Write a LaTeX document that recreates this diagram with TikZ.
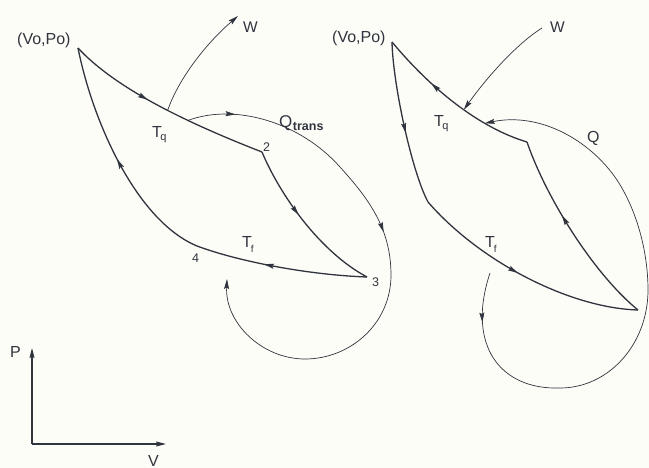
\documentclass[tikz,border=0pt]{standalone}
\usepackage{fontspec}
\setmainfont{Liberation Sans}
\usetikzlibrary{arrows.meta,decorations.markings}
\definecolor{ink}{RGB}{48,52,62}
\definecolor{paper}{RGB}{253,253,247}
\begin{document}
\begin{tikzpicture}[x=1pt,y=-1pt,
  cyc/.style={draw=ink,line width=1.3pt},
  flow/.style={draw=ink,line width=0.7pt},
  endtip/.style={-{Stealth[length=10pt,width=5pt,inset=1.5pt]}},
  midarrow/.style={postaction={decorate},decoration={markings,
     mark=at position #1 with {\arrow{Stealth[length=10pt,width=5pt,inset=1.5pt]}}}},
  twoarrows/.style 2 args={postaction={decorate},decoration={markings,
     mark=at position #1 with {\arrow{Stealth[length=10pt,width=5pt,inset=1.5pt]}},
     mark=at position #2 with {\arrow{Stealth[length=10pt,width=5pt,inset=1.5pt]}}}},
  lbl/.style={text=ink,font=\fontsize{16}{18}\selectfont,inner sep=0pt,anchor=base west},
  num/.style={text=ink,font=\fontsize{12.5}{14}\selectfont,inner sep=0pt,anchor=base west}
]
\fill[paper] (0,0) rectangle (649,468);
\useasboundingbox (0,0) rectangle (649,468);

% ---------- left cycle ----------
\coordinate (A1) at (78,48);
\coordinate (B1) at (262,152);
\coordinate (C1) at (367,277);
\coordinate (D1) at (197,246);

\draw[cyc,midarrow=0.41] (A1) .. controls (115,88) and (185,122) ..
   coordinate[pos=0.565] (wL) coordinate[pos=0.665] (qL) (B1);
\draw[cyc,midarrow=0.44] (B1) .. controls (280,195) and (320,252) .. (C1);
\draw[cyc,midarrow=0.6] (C1) .. controls (310,275) and (240,262) .. (D1);
\draw[cyc,midarrow=0.505] (D1) .. controls (137,221) and (93,123) .. (A1);

\coordinate (wLtip) at (238,16);
\draw[flow,endtip] (wL) .. controls (180,75) and (210,40) .. (wLtip);

\coordinate (qLtip) at (227,279);
\draw[flow,endtip,twoarrows={0.088}{0.45}] (qL)
  .. controls (235,103) and (300,122) .. (340,167)
  .. controls (368,198) and (391,228) .. (391,275)
  .. controls (391,324) and (350,359) .. (305,359)
  .. controls (262,359) and (225,323) .. (qLtip);

% ---------- right cycle ----------
\coordinate (A2) at (392,42);
\coordinate (B2) at (527,142);
\coordinate (C2) at (638,310);
\coordinate (D2) at (428,202);

\draw[cyc,midarrow=0.56] (A2) .. controls (393,85) and (412,172) .. (D2);
\draw[cyc,midarrow=0.476] (D2) .. controls (480,262) and (570,308) .. (C2);
\draw[cyc,midarrow=0.6] (C2) .. controls (595,275) and (547,200) .. (B2);
\draw[cyc,midarrow=0.665] (B2) .. controls (480,128) and (432,90) ..
   coordinate[pos=0.3] (qR) coordinate[pos=0.45] (wR) (A2);

\coordinate (wRstart) at (542,28);
\draw[flow,endtip] (wRstart) .. controls (515,45) and (485,80) .. (wR);

\coordinate (qRstart) at (490,273);
\draw[flow,endtip,midarrow=0.087] (qRstart)
  .. controls (466,345) and (500,390) .. (560,388)
  .. controls (609,388) and (648,344) .. (648,290)
  .. controls (648,250) and (636,209) .. (617,180)
  .. controls (590,140) and (540,112) .. (qR);

% ---------- axes ----------
\coordinate (O) at (32,444);
\coordinate (Ptip) at (32,348);
\coordinate (Vtip) at (166,444);
\draw[cyc,line width=1.1pt,endtip] (O) -- (Ptip);
\draw[cyc,line width=1.1pt,endtip] (O) -- (Vtip);

% ---------- labels ----------
\node[lbl] (v0L) at (17,45) {(Vo,Po)};
\node[lbl] (v0R) at (332,43) {(Vo,Po)};
\node[lbl,font=\fontsize{15.5}{18}\selectfont] (WLlbl) at (243,33) {W};
\node[lbl,font=\fontsize{15.5}{18}\selectfont] (WRlbl) at (550,33) {W};
\node[lbl] (TqL) at (152,138) {T\kern-1.5pt\raisebox{-3pt}{\fontsize{11}{11}\selectfont q}};
\node[lbl] (TqR) at (434,127) {T\kern-1.5pt\raisebox{-3pt}{\fontsize{11}{11}\selectfont q}};
\node[lbl] (TfL) at (242,248) {T\kern-1pt\raisebox{-5pt}{\fontsize{10}{10}\selectfont f}};
\node[lbl] (TfR) at (485,248) {T\kern-1pt\raisebox{-5pt}{\fontsize{10}{10}\selectfont f}};
\node[lbl,font=\fontsize{17}{18}\selectfont] (Qtr) at (279,128)
   {Q\kern0.5pt\raisebox{-3pt}{\fontsize{12.5}{13}\bfseries trans}};
\node[lbl] (QR) at (587,143) {Q};
\node[num] (n2) at (263,152) {2};
\node[num] (n3) at (372,287) {3};
\node[num] (n4) at (192,263) {4};
\node[lbl] (Plbl) at (10,357) {P};
\node[lbl] (Vlbl) at (148,466) {V};
\end{tikzpicture}
\end{document}
